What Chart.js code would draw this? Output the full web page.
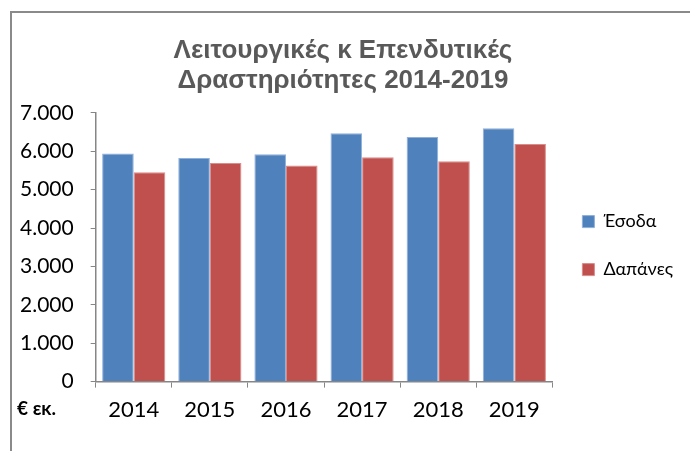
<!DOCTYPE html>
<html>
<head>
<meta charset="utf-8">
<script src="https://cdn.jsdelivr.net/npm/chart.js@4"></script>
<style>
  body { margin: 0; background: #fff; overflow: hidden; }
  #frame { position: absolute; left: 10px; top: 11px; width: 720px; height: 500px; border: 2px solid #8a8a8a; }
  #wrap { position: absolute; left: 0; top: 0; width: 690px; height: 451px; }
</style>
</head>
<body>
<div id="frame"></div>
<div id="wrap"><canvas id="chart"></canvas></div>
<script>
const years = ["2014", "2015", "2016", "2017", "2018", "2019"];
const esoda = [5940, 5820, 5920, 6470, 6370, 6600];
const dapanes = [5450, 5690, 5630, 5840, 5740, 6190];
const titleLines = ["Λειτουργικές κ Επενδυτικές", "Δραστηριότητες 2014-2019"];
const unitLabel = "€ εκ.";

const AXIS = "#868686";

// "€ εκ." sits under the y labels, level with the year labels
const unitPlugin = {
  id: "unit",
  afterDraw(chart) {
    const c = chart.ctx;
    const x = chart.scales.x;
    c.save();
    c.font = "bold 19px Lato, sans-serif";
    c.fillStyle = "#000";
    c.textBaseline = "middle";
    c.fillText(unitLabel, 17, x.top + 27);
    c.restore();
  },
};

const fmt = (v) => String(v).replace(/\B(?=(\d{3})+(?!\d))/g, ".");

new Chart(document.getElementById("chart"), {
  type: "bar",
  data: {
    labels: years,
    datasets: [
      {
        label: "Έσοδα",
        data: esoda,
        backgroundColor: "#4F81BD",
        borderColor: "#8fb0d9",
        borderWidth: 1,
        categoryPercentage: 0.83,
        barPercentage: 1.0,
      },
      {
        label: "Δαπάνες",
        data: dapanes,
        backgroundColor: "#C0504D",
        borderColor: "#d98c8a",
        borderWidth: 1,
        categoryPercentage: 0.83,
        barPercentage: 1.0,
      },
    ],
  },
  options: {
    responsive: true,
    maintainAspectRatio: false,
    animation: false,
    layout: { padding: { left: 3, right: 7, top: 26, bottom: 19 } },
    plugins: {
      title: {
        display: true,
        text: titleLines,
        color: "#595959",
        font: { family: "'Liberation Sans', Arial, sans-serif", size: 26, weight: "bold", lineHeight: 1.15 },
        padding: { top: 10, bottom: 17 },
      },
      legend: {
        position: "right",
        // empty title only pushes the two entries a bit lower
        title: { display: true, text: "", font: { size: 1 }, padding: { top: 32, bottom: 0 } },
        labels: {
          color: "#000",
          boxWidth: 12,
          boxHeight: 12,
          padding: 30,
          font: { family: "Lato, sans-serif", size: 18 },
        },
      },
      tooltip: { enabled: false },
    },
    scales: {
      x: {
        grid: { display: true, drawOnChartArea: false, color: AXIS, tickLength: 6 },
        border: { color: AXIS, width: 1.5 },
        ticks: { color: "#000", padding: 9, font: { family: "Lato, sans-serif", size: 22 } },
      },
      y: {
        min: 0,
        max: 7000,
        grid: { display: true, drawOnChartArea: false, color: AXIS, tickLength: 5 },
        border: { color: AXIS, width: 1.5 },
        ticks: {
          stepSize: 1000,
          color: "#000",
          padding: 17,
          font: { family: "Lato, sans-serif", size: 21 },
          callback: (v) => fmt(v),
        },
      },
    },
  },
  plugins: [unitPlugin],
});
</script>
</body>
</html>
